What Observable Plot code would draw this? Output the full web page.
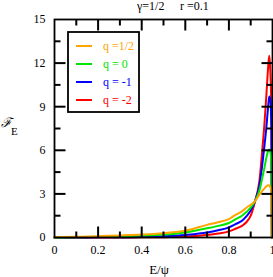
<!DOCTYPE html>
<html><head><meta charset="utf-8">
<script src="https://cdn.jsdelivr.net/npm/d3@7"></script>
<script src="https://cdn.jsdelivr.net/npm/@observablehq/plot@0.6"></script>
<style>body{margin:0;background:#fff}svg{display:block}</style>
</head><body><div id="chart"></div>
<script>
const E = [0,0.1,0.2,0.3,0.4,0.5,0.6,0.7,0.75,0.8,0.83,0.86,0.88,0.9,0.92,0.94,0.953,0.963,0.972,0.98,0.985,0.99,0.995,0.997];
const qHalf = [0.02,0.05,0.09,0.14,0.2,0.3,0.47,0.87,1.05,1.27,1.55,1.8,2.05,2.25,2.5,2.95,3.2,3.38,3.52,3.6,3.58,3.45,3.2,0];
const qZero = [0,0.02,0.05,0.08,0.13,0.2,0.35,0.63,0.8,1.0,1.25,1.5,1.75,2.05,2.5,3.25,4.1,4.8,5.5,5.95,6.05,5.9,5.0,0];
const qMinus1 = [0,0.005,0.01,0.02,0.04,0.08,0.18,0.35,0.5,0.7,0.92,1.15,1.45,1.85,2.5,3.6,5.0,6.3,7.6,9.0,9.7,9.5,7.5,0];
const qMinus2 = [0,0,0,0.005,0.01,0.025,0.07,0.17,0.27,0.42,0.6,0.8,1.05,1.5,2.5,3.9,6.0,7.8,9.8,11.7,12.5,11.5,8.5,0];
const seriesNames = ["q =1/2","q = 0","q = -1","q = -2"];
const seriesColors = ["#ffa500","#00e600","#0000ff","#ff0000"];
const seriesValues = [qHalf,qZero,qMinus1,qMinus2];
const xTicks = [0,0.2,0.4,0.6,0.8,1];
const xTickLabels = ["0","0.2","0.4","0.6","0.8","1"];
const yTicks = [0,3,6,9,12,15];
const xMinor = [0.1,0.3,0.5,0.7,0.9];
const yMinor = [1.5,4.5,7.5,10.5,13.5];

// pixel tick lengths converted to data units (plot area is 218 x 218 px)
const kx = 1/218, ky = 15/218;
const rows = [];
seriesValues.forEach((vals,i)=>vals.forEach((v,j)=>rows.push({E:E[j],F:v,s:i})));

// tick segments as two-point paths
const tickSeg = [];
let id = 0;
function seg(x1,y1,x2,y2){ tickSeg.push({x:x1,y:y1,id}); tickSeg.push({x:x2,y:y2,id}); id++; }
xTicks.slice(1,-1).forEach(t=>{ seg(t,0,t,11*ky); seg(t,15,t,15-11*ky); });
xMinor.forEach(t=>{ seg(t,0,t,6*ky); seg(t,15,t,15-6*ky); });
yTicks.slice(1,-1).forEach(t=>{ seg(0,t,11*kx,t); seg(1,t,1-11*kx,t); });
yMinor.forEach(t=>{ seg(0,t,6*kx,t); seg(1,t,1-6*kx,t); });

const plot = Plot.plot({
  width:273, height:277, marginLeft:54, marginRight:1, marginTop:19, marginBottom:40,
  x:{domain:[0,1]}, y:{domain:[0,15]},
  marks:[
    Plot.line(rows.filter(r=>r.s===3),{x:"E",y:"F",stroke:seriesColors[3],strokeWidth:2,curve:"monotone-x"}),
    Plot.line(rows.filter(r=>r.s===2),{x:"E",y:"F",stroke:seriesColors[2],strokeWidth:2,curve:"monotone-x"}),
    Plot.line(rows.filter(r=>r.s===1),{x:"E",y:"F",stroke:seriesColors[1],strokeWidth:2,curve:"monotone-x"}),
    Plot.line(rows.filter(r=>r.s===0),{x:"E",y:"F",stroke:seriesColors[0],strokeWidth:2,curve:"monotone-x"}),
    Plot.line(tickSeg,{x:"x",y:"y",z:"id",stroke:"black",strokeWidth:2,strokeLinecap:"butt"}),
    Plot.frame({stroke:"black", strokeWidth:1.8}),
    Plot.axisX({ticks:xTicks,tickSize:0,tickPadding:8,tickFormat:(d,i)=>xTickLabels[i],label:null}),
    Plot.axisY({ticks:yTicks,tickSize:0,tickPadding:9,label:null})
  ]
});
document.getElementById("chart").append(plot);
const font = "Liberation Serif, serif";
const svg = d3.select(plot).attr("font-family",font).attr("font-size",12);

function txt(x,y,s,opt={}){
  return svg.append("text").attr("x",x).attr("y",y).attr("text-anchor",opt.anchor||"start")
    .attr("font-size",opt.size||12).attr("fill",opt.fill||"black").text(s);
}
txt(137,10,"γ=1/2");
txt(180,10,"r =0.1");
txt(159,274,"E/ψ",{anchor:"middle",size:13});
const yl = svg.append("text").attr("x",1).attr("y",127).attr("text-anchor","start").attr("font-size",13).attr("fill","black");
yl.append("tspan").attr("font-style","italic").text("ℱ");
yl.append("tspan").attr("dy",8).attr("dx",-1).attr("font-size",11).text("E");

const lg = svg.append("g");
lg.append("rect").attr("x",68).attr("y",32).attr("width",71).attr("height",80).attr("fill","white").attr("stroke","black").attr("stroke-width",1.8);
seriesNames.forEach((n,i)=>{
  const cy = 46 + i*18;
  lg.append("line").attr("x1",76).attr("x2",92).attr("y1",cy).attr("y2",cy).attr("stroke",seriesColors[i]).attr("stroke-width",2);
  lg.append("text").attr("x",103).attr("y",cy+4).attr("text-anchor","start").attr("font-size",12).attr("fill",seriesColors[i]).text(n);
});
</script></body></html>
